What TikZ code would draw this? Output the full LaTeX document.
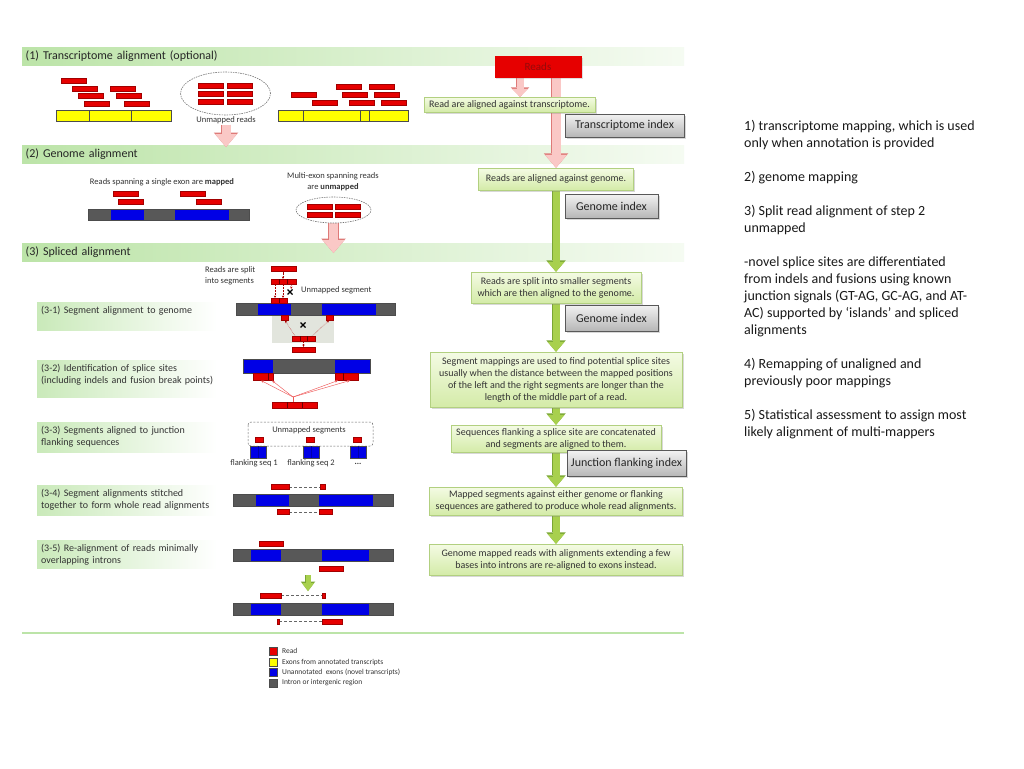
\documentclass[tikz,border=0pt]{standalone}
\usepackage{fontspec}
\setmainfont{Carlito}
\usetikzlibrary{arrows.meta,shapes.geometric,shadows,positioning}

\definecolor{readred}{RGB}{230,0,0}
\definecolor{readtext}{RGB}{150,10,10}
\definecolor{exonyel}{RGB}{255,255,0}
\definecolor{exonblue}{RGB}{0,0,230}
\definecolor{introngray}{RGB}{88,88,88}
\definecolor{hdrgreen}{RGB}{188,228,168}
\definecolor{boxgreenT}{RGB}{244,251,228}
\definecolor{boxgreenB}{RGB}{212,235,168}
\definecolor{boxgreenD}{RGB}{178,208,128}
\definecolor{arrgreen}{RGB}{168,208,78}
\definecolor{arrgreenD}{RGB}{122,166,52}
\definecolor{pinkfill}{RGB}{250,200,198}
\definecolor{pinkdraw}{RGB}{222,122,120}
\definecolor{idxtop}{RGB}{242,242,242}
\definecolor{idxbot}{RGB}{182,182,182}
\definecolor{panelgray}{RGB}{226,229,221}

\pgfdeclarelayer{background}
\pgfdeclarelayer{arrows}
\pgfsetlayers{background,arrows,main}

\begin{document}
\begin{tikzpicture}[x=1pt,y=-1pt]
  \tikzset{
    hdr/.style={anchor=west, minimum width=662pt, minimum height=18pt, text width=655pt, inner xsep=3.5pt, inner ysep=0pt, align=left,
      left color=hdrgreen, right color=hdrgreen!15!white, font=\fontsize{12}{14}\selectfont, text=black!85},
    sublblfill/.style={left color=hdrgreen!80, right color=white},
    sublbl/.style={anchor=north west, text width=176pt, inner xsep=4pt, inner ysep=3pt, align=left, font=\fontsize{10}{12}\selectfont, text=black!80},
    stepbox/.style={draw=boxgreenD, top color=boxgreenT, bottom color=boxgreenB, drop shadow={shadow xshift=1.5pt, shadow yshift=-1.5pt, opacity=0.3},
      align=center, inner sep=2pt, font=\fontsize{10}{12}\selectfont, text=black!80},
    idxbox/.style={draw=black!65, top color=idxtop, bottom color=idxbot, drop shadow={shadow xshift=1.5pt, shadow yshift=-1.5pt, opacity=0.3},
      inner sep=0pt, font=\fontsize{12}{14}\selectfont, text=black!85},
    readsbox/.style={fill=readred, minimum width=87pt, minimum height=21pt, inner sep=0pt, text=readtext,
      font=\fontsize{11}{13}\selectfont, drop shadow={shadow xshift=1.5pt, shadow yshift=-1.5pt, opacity=0.25}},
    small/.style={font=\fontsize{8.5}{11}\selectfont, text=black!80, inner sep=1pt},
    legend/.style={font=\fontsize{7.5}{9}\selectfont, text=black!80, inner sep=1pt, anchor=west},
    read/.style={fill=readred, draw=readred!70!black, line width=0.3pt},
    readdiv/.style={draw=readred!45!black, line width=0.4pt},
    bar/.style={draw=black!70, line width=0.4pt},
    unmapell/.style={ellipse, draw=black!55, dash pattern=on 1.5pt off 1pt, line width=0.6pt, inner sep=0pt},
    dashbox/.style={draw=black!60, dash pattern=on 2pt off 1.5pt, rounded corners=3pt, line width=0.5pt},
    segarr/.style={draw=readred!75!black, densely dotted, line width=0.45pt, -{Stealth[length=2.5pt,width=2.2pt]}},
    fanline/.style={draw=readred!65, line width=0.45pt},
    gapline/.style={draw=black!60, densely dashed, line width=0.4pt},
    xmark/.style={line width=1.3pt, black},
    pinkarrow/.style={draw=pinkfill, line width=9pt, -{Triangle[width=22pt,length=13pt,line width=0pt]},
      preaction={draw=pinkdraw, line width=10.5pt, -{Triangle[width=24.5pt,length=14.5pt,line width=0pt]}}},
    pinksmall/.style={draw=pinkfill, line width=7pt, -{Triangle[width=16pt,length=8pt,line width=0pt]},
      preaction={draw=pinkdraw, line width=8.5pt, -{Triangle[width=18.5pt,length=9.5pt,line width=0pt]}}},
    grarrow/.style={draw=arrgreen, line width=7pt, -{Triangle[width=17pt,length=10pt,line width=0pt]},
      preaction={draw=arrgreenD, line width=8.5pt, -{Triangle[width=19.5pt,length=11.5pt,line width=0pt]}}},
    grsmall/.style={draw=arrgreen, line width=5pt, -{Triangle[width=12pt,length=8pt,line width=0pt]},
      preaction={draw=arrgreenD, line width=6.5pt, -{Triangle[width=14.5pt,length=9.5pt,line width=0pt]}}}
  }

  \begin{pgfonlayer}{background}
    \fill[white] (0,0) rectangle (1024,768);
    \node[hdr] (hd1) at (22,56.5) {(1) Transcriptome alignment (optional)};
    \node[hdr] (hd2) at (22,154) {(2) Genome alignment};
    \node[hdr] (hd3) at (22,252.5) {(3) Spliced alignment};
    \shade[sublblfill] (37,302) rectangle (217,330);
    \shade[sublblfill] (37,360) rectangle (217,397);
    \shade[sublblfill] (37,422) rectangle (217,452);
    \shade[sublblfill] (37,485) rectangle (217,515);
    \shade[sublblfill] (37,540) rectangle (217,568);
    \draw[line width=2pt, hdrgreen] (22,633) -- (684,633);
  \end{pgfonlayer}
  \useasboundingbox (0,0) rectangle (1024,768);

  % right-hand flow
  \node[readsbox] (reads) at (538,67) {Reads};
  \node[stepbox, minimum width=171pt, minimum height=15pt] (tx) at (509.5,104.5) {Read are aligned against transcriptome.};
  \node[idxbox, minimum width=119pt, minimum height=23pt] (tidx) at (624.5,125.5) {Transcriptome index};
  \node[stepbox, minimum width=155pt, minimum height=22pt] (gen) at (556,179) {Reads are aligned against genome.};
  \node[idxbox, minimum width=93pt, minimum height=24pt] (gidx) at (611.5,206) {Genome index};
  \node[stepbox, minimum width=170pt, minimum height=31pt] (split) at (556,287.5) {Reads are split into smaller segments\\which are then aligned to the genome.};
  \node[idxbox, minimum width=93pt, minimum height=26pt] (gidx2) at (611.5,318) {Genome index};
  \node[stepbox, minimum width=252pt, minimum height=55pt] (segmap) at (556,379.5) {Segment mappings are used to find potential splice sites\\usually when the distance between the mapped positions\\of the left and the right segments are longer than the\\length of the middle part of a read.};
  \node[stepbox, minimum width=210pt, minimum height=27pt] (flank) at (556,438.5) {Sequences flanking a splice site are concatenated\\and segments are aligned to them.};
  \node[idxbox, minimum width=119pt, minimum height=26pt] (jidx) at (626.5,463.5) {Junction flanking index};
  \node[stepbox, minimum width=253pt, minimum height=28pt] (mapped) at (556,501) {Mapped segments against either genome or flanking\\sequences are gathered to produce whole read alignments.};
  \node[stepbox, minimum width=253pt, minimum height=31pt] (remap) at (556,559.5) {Genome mapped reads with alignments extending a few\\bases into introns are re-aligned to exons instead.};

  % (1) transcriptome alignment
  \foreach \x/\y in {61/78, 72/86, 78/93, 84/101, 110/86, 116/93, 124/101,
                     291/92, 312/100, 336/84, 342/92, 349/100, 369/84, 374/92, 381/100,
                     198/83, 227/83, 198/91, 227/91, 198/99, 227/99}
    \draw[read] (\x,\y) rectangle ++(25,5);
  \draw[bar, fill=exonyel] (56,110) rectangle (171,121);
  \draw[bar] (89,110) -- (89,121) (131,110) -- (131,121);
  \draw[bar, fill=exonyel] (278,110) rectangle (408,121);
  \draw[bar] (303,110) -- (303,121) (360,110) -- (360,121) (369,110) -- (369,121);
  \node[unmapell, minimum width=90pt, minimum height=43pt] (ell1) at (225.5,93.5) {};
  \node[small] (ell1lbl) at (226,120) {Unmapped reads};
  \coordinate (ar1end) at (226,147);

  % (2) genome alignment
  \node[small] (span1) at (162,182) {Reads spanning a single exon are \textbf{mapped}};
  \node[small, align=center] (multi) at (333,182) {Multi-exon spanning reads\\are \textbf{unmapped}};
  \foreach \x/\y in {113/191, 118/199, 180/191, 196/199, 307/204, 335/204, 307/212, 335/212}
    \draw[read] (\x,\y) rectangle ++(25,5);
  \foreach \a/\b/\c in {88/111/introngray, 111/144/exonblue, 144/175/introngray, 175/229/exonblue, 229/249/introngray}
    \fill[fill=\c] (\a,209) rectangle (\b,220);
  \draw[bar] (88,209) rectangle (249,220);
  \node[unmapell, minimum width=75pt, minimum height=26pt] (ell2) at (333.5,210) {};
  \coordinate (ar2end) at (333.5,253);

  % (3) spliced alignment labels
  \node[sublbl] (s31) at (37,303) {(3-1) Segment alignment to genome};
  \node[sublbl] (s32) at (37,361) {(3-2) Identification of splice sites\\(including indels and fusion break points)};
  \node[sublbl] (s33) at (37,423) {(3-3) Segments aligned to junction\\flanking sequences};
  \node[sublbl] (s34) at (37,486) {(3-4) Segment alignments stitched\\together to form whole read alignments};
  \node[sublbl] (s35) at (37,541) {(3-5) Re-alignment of reads minimally\\overlapping introns};

  % (3-1)
  \node[small, align=left, anchor=west] (splitlbl) at (204,275.5) {Reads are split\\into segments};
  \node[small, anchor=west] (unseg) at (300,290) {Unmapped segment};
  \fill[panelgray] (272,315) rectangle (334,343);
  \draw[read] (271,266.5) rectangle (296,271.5);
  \draw[segarr] (283,271.5) -- (283,279);
  \draw[read] (271,279) rectangle (296,284);
  \draw[readdiv] (279,279) -- (279,284) (287,279) -- (287,284);
  \draw[segarr] (275,284) -- (275,298);
  \draw[segarr] (283,284) -- (283,298);
  \draw[segarr] (292,284) -- (291,289);
  \draw[xmark] (287.5,289.5) -- (292.5,294.5) (287.5,294.5) -- (292.5,289.5);
  \foreach \a/\b/\c in {236/258/introngray, 258/291/exonblue, 291/322/introngray, 322/376/exonblue, 376/395/introngray}
    \fill[fill=\c] (\a,303) rectangle (\b,315);
  \draw[bar] (236,303) rectangle (395,315);
  \draw[read] (271,298) rectangle (287,303);
  \draw[readdiv] (279,298) -- (279,303);
  \draw[read] (281,315) rectangle (288,320);
  \draw[read] (326,315) rectangle (333,320);
  \draw[xmark] (300.5,322.5) -- (305.5,327.5) (300.5,327.5) -- (305.5,322.5);
  \draw[read] (292,336) rectangle (315,341);
  \draw[readdiv] (300,336) -- (300,341) (307,336) -- (307,341);
  \draw[segarr] (295,336) -- (285,320.5);
  \draw[segarr] (312,336) -- (329,320.5);
  \draw[segarr] (303.5,341) -- (303.5,347);
  \draw[read] (292,347) rectangle (315,352);

  % (3-2)
  \foreach \a/\b/\c in {243/273/exonblue, 273/335/introngray, 335/370/exonblue}
    \fill[fill=\c] (\a,359) rectangle (\b,373);
  \draw[bar] (243,359) rectangle (370,373);
  \draw[read] (253,373) rectangle (273,380);
  \draw[readdiv] (268,373) -- (268,380);
  \draw[read] (335,373) rectangle (358,380);
  \draw[readdiv] (343,373) -- (343,380);
  \draw[read] (272,402) rectangle (317,408);
  \draw[readdiv] (287,402) -- (287,408) (302,402) -- (302,408);
  \coordinate (fan) at (293,397);
  \draw[fanline] (293,402) -- (fan);
  \foreach \x in {261,272,338,350}
    \draw[fanline, -{Stealth[length=3pt,width=2.5pt]}] (fan) -- (\x,380.5);

  % (3-3)
  \draw[dashbox] (248,422) rectangle (373,446);
  \node[small] (useg) at (309,430) {Unmapped segments};
  \foreach \x in {255,306,353}
    \draw[read] (\x,437) rectangle ++(8,5);
  \foreach \x in {250,303,350} {
    \draw[bar, fill=exonblue] (\x,446) rectangle ++(16,12);
    \draw[draw=exonblue!75!black, line width=0.3pt] (\x+8,446) -- (\x+8,458);
  }
  \node[small] (fs1) at (254,463.5) {flanking seq 1};
  \node[small] (fs2) at (311,463.5) {flanking seq 2};
  \node[small, font=\bfseries\fontsize{8.5}{11}\selectfont] (fs3) at (358,463.5) {...};

  % (3-4)
  \draw[gapline] (289,487) -- (320,487);
  \draw[read] (271,484.5) rectangle (289,489.5);
  \draw[read] (320,484.5) rectangle (325,489.5);
  \foreach \a/\b/\c in {233/256/introngray, 256/289/exonblue, 289/319/introngray, 319/373/exonblue, 373/393/introngray}
    \fill[fill=\c] (\a,494) rectangle (\b,506);
  \draw[bar] (233,494) rectangle (393,506);
  \draw[gapline] (289,512) -- (319,512);
  \draw[read] (277,509.5) rectangle (289,514.5);
  \draw[read] (319,509.5) rectangle (332,514.5);

  % (3-5)
  \foreach \t in {549,603} {
    \foreach \a/\b/\c in {233/251/introngray, 251/281/exonblue, 281/322/introngray, 322/369/exonblue, 369/393/introngray}
      \fill[fill=\c] (\a,\t) rectangle (\b,\t+12.5);
    \draw[bar] (233,\t) rectangle (393,\t+12.5);
  }
  \draw[read] (259,541) rectangle (283,546);
  \draw[read] (319,566) rectangle (343,571);
  \coordinate (rea) at (308,575);
  \coordinate (reb) at (308,591);
  \draw[gapline] (281,595.5) -- (322,595.5);
  \draw[read] (260,593) rectangle (281,598);
  \draw[read] (322,593) rectangle (325,598);
  \draw[gapline] (279,621.5) -- (322,621.5);
  \draw[read] (277,619) rectangle (279,624);
  \draw[read] (322,619) rectangle (342,624);

  % legend
  \foreach \y/\c/\t [count=\i] in {647/readred/Read, 658/exonyel/Exons from annotated transcripts,
                                   668/exonblue/Unannotated\ \ exons (novel transcripts), 679/introngray/Intron or intergenic region} {
    \draw[fill=\c, draw=black!70, line width=0.5pt] (269,\y) rectangle ++(8,8);
    \node[legend] (leg\i) at (281,\y+4) {\t};
  }

  % notes
  \node[anchor=north west, align=left, inner sep=0pt, font=\fontsize{14}{17}\selectfont, text=black!90] (notes) at (744,120) {%
    1) transcriptome mapping, which is used\\
    only when annotation is provided\\[17pt]
    2) genome mapping\\[17pt]
    3) Split read alignment of step 2\\
    unmapped\\[17pt]
    -novel splice sites are differentiated\\
    from indels and fusions using known\\
    junction signals (GT-AG, GC-AG, and AT-\\
    AC) supported by ‘islands’ and spliced\\
    alignments\\[17pt]
    4) Remapping of unaligned and\\
    previously poor mappings\\[17pt]
    5) Statistical assessment to assign most\\
    likely alignment of multi-mappers};

  \begin{pgfonlayer}{arrows}
    \draw[pinkarrow] (reads.south -| gen.north) -- (gen.north);
    \draw[pinksmall] ([xshift=-18pt]reads.south) -- ([xshift=-18pt]reads.south |- tx.north);
    \draw[pinkarrow] (ell1lbl.south) -- (ar1end);
    \draw[pinkarrow] (ell2.south) -- (ar2end);
    \draw[grarrow] (gen.south) -- (split.north);
    \draw[grarrow] (split.south) -- (segmap.north);
    \draw[grarrow] (segmap.south) -- (flank.north);
    \draw[grarrow] (flank.south) -- (mapped.north);
    \draw[grarrow] (mapped.south) -- (remap.north);
    \draw[grsmall] (rea) -- (reb);
  \end{pgfonlayer}
\end{tikzpicture}
\end{document}
